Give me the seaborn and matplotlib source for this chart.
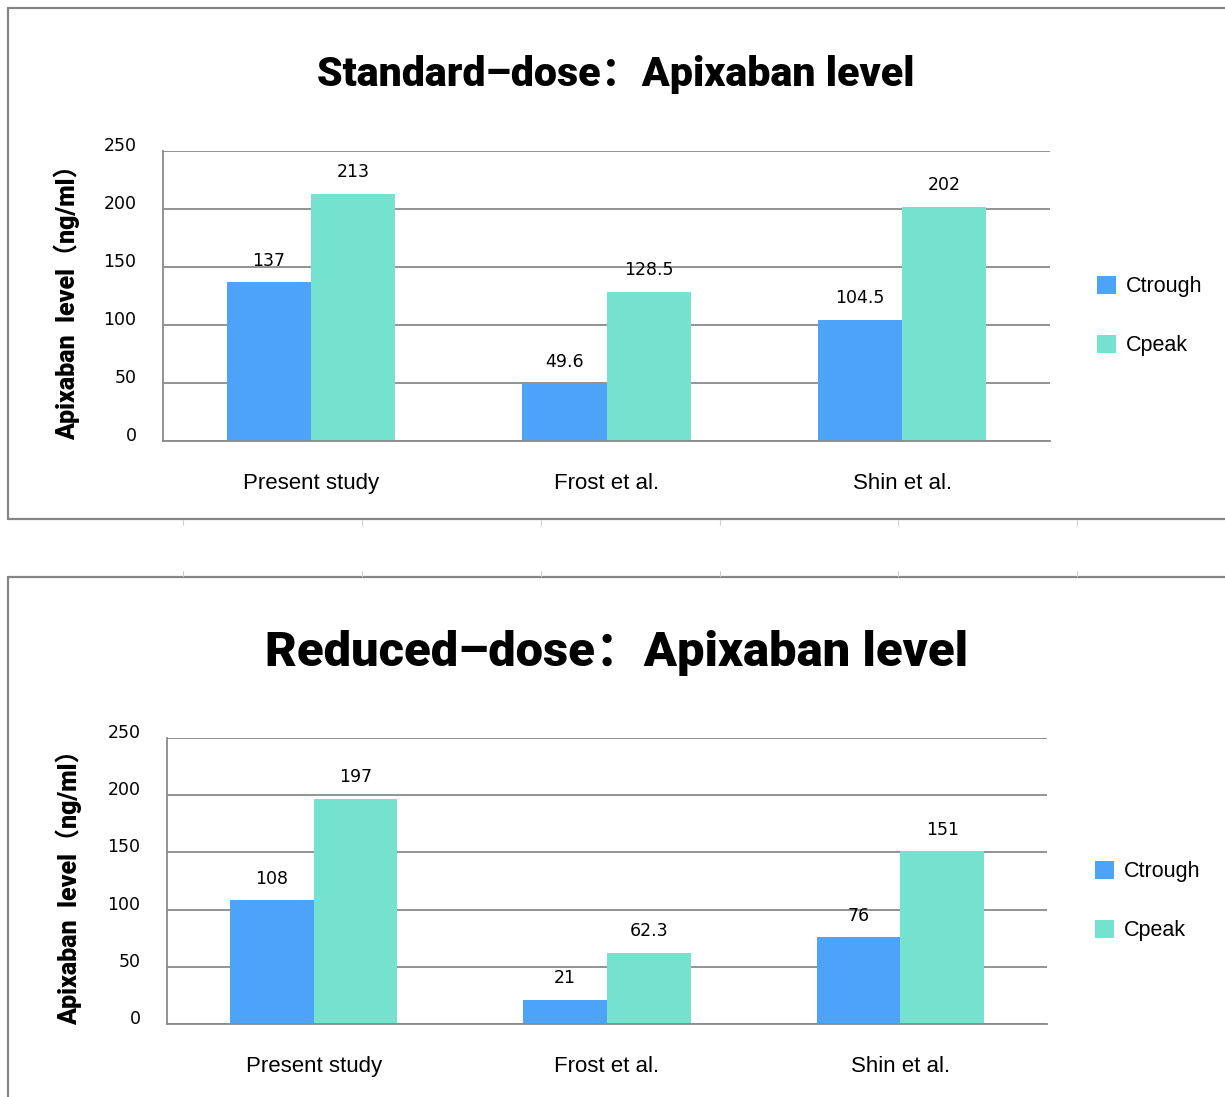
import matplotlib
matplotlib.use("Agg")
import matplotlib.pyplot as plt
from matplotlib.lines import Line2D
import seaborn as sns
import pandas as pd

# Data
studies = ["Present study", "Frost et al.", "Shin et al."]
series = ["Ctrough", "Cpeak"]
standard_ctrough = [137, 49.6, 104.5]
standard_cpeak = [213, 128.5, 202]
reduced_ctrough = [108, 21, 76]
reduced_cpeak = [197, 62.3, 151]
y_ticks = [0, 50, 100, 150, 200, 250]
titles = ["Standard–dose：Apixaban level", "Reduced–dose：Apixaban level"]
y_label = "Apixaban  level（ng/ml）"

palette = {"Ctrough": "#4da3f8", "Cpeak": "#74e2cf"}
GRID = "#8a8a8a"

sns.set_theme(style="white")
plt.rcParams["font.family"] = ["Liberation Sans", "DejaVu Sans"]
plt.rcParams["text.color"] = "black"
plt.rcParams["xtick.color"] = "black"
plt.rcParams["ytick.color"] = "black"
plt.rcParams["axes.labelcolor"] = "black"

W, H = 1225, 1097
fig = plt.figure(figsize=(W / 100, H / 100), dpi=100)
fig.patch.set_facecolor("white")

HEAVY = ["Roboto", "Noto Sans CJK SC", "DejaVu Sans"]


def frac_box(left, top, right, bottom):
    return [left / W, 1 - bottom / H, (right - left) / W, (bottom - top) / H]


def make_frame(ctrough, cpeak):
    rows = []
    for s, a, b in zip(studies, ctrough, cpeak):
        rows.append({"study": s, "series": "Ctrough", "value": a})
        rows.append({"study": s, "series": "Cpeak", "value": b})
    return pd.DataFrame(rows)


def draw_panel(box, df, title, title_xy, title_size, legend_xy, label_x):
    ax = fig.add_axes(frac_box(*box))
    sns.barplot(data=df, x="study", y="value", hue="series", order=studies,
                hue_order=series, palette=palette, width=0.57, saturation=1,
                edgecolor="none", linewidth=0, ax=ax, errorbar=None)
    ax.set_xlim(-0.5, 2.5)
    ax.set_ylim(0, 250)
    ax.set_yticks(y_ticks)
    ax.set_yticklabels([str(t) for t in y_ticks], fontsize=12.5,
                       family="DejaVu Sans", va="baseline")
    ax.tick_params(axis="y", length=0, pad=19)
    ax.tick_params(axis="x", length=0, pad=23, labelsize=16)
    ax.set_xlabel("")
    ax.set_ylabel(y_label, fontsize=18, fontweight=900, family=HEAVY)
    ax.yaxis.set_label_coords(label_x, 0.5)
    ax.yaxis.grid(True, color=GRID, linewidth=1.3)
    ax.set_axisbelow(True)
    for side in ["top", "right"]:
        ax.spines[side].set_visible(False)
    for side in ["left", "bottom"]:
        ax.spines[side].set_color(GRID)
        ax.spines[side].set_linewidth(1.3)
    for cont in ax.containers:
        ax.bar_label(cont, labels=[f"{v:g}" for v in cont.datavalues],
                     padding=9, fontsize=12.5, family="DejaVu Sans")
    ax.legend(loc="center left", bbox_to_anchor=legend_xy,
              frameon=False, fontsize=15.5, handlelength=0.9,
              handleheight=0.9, handletextpad=0.45, labelspacing=1.75)
    fig.text(title_xy[0] / W, 1 - title_xy[1] / H, title, ha="center",
             va="center", fontsize=title_size, fontweight=900,
             family=HEAVY)
    return ax


draw_panel((163, 151, 1050, 441), make_frame(standard_ctrough, standard_cpeak),
           titles[0], (616, 74), 29.6, (1.031, 0.43), -0.0936)
draw_panel((167, 738, 1047, 1024), make_frame(reduced_ctrough, reduced_cpeak),
           titles[1], (617, 653), 35.2, (1.032, 0.43), -0.0966)

# Panel borders
BORDER = "#858585"


def pline(x0, y0, x1, y1, color=BORDER, lw=1.6):
    fig.add_artist(Line2D([x0 / W, x1 / W], [1 - y0 / H, 1 - y1 / H],
                          transform=fig.transFigure, color=color, lw=lw))


pline(8, 8, 1225, 8)
pline(8, 8, 8, 519)
pline(8, 519, 1225, 519)
pline(8, 577, 1225, 577)
pline(8, 577, 8, 1097)

# Light sheet ticks between the panels
for x in [183, 362, 541, 720, 898, 1077]:
    pline(x, 520, x, 525, color="#d0d0d0", lw=0.8)
    pline(x, 571, x, 576, color="#d0d0d0", lw=0.8)

fig.savefig("out.png", dpi=100, facecolor="white")
